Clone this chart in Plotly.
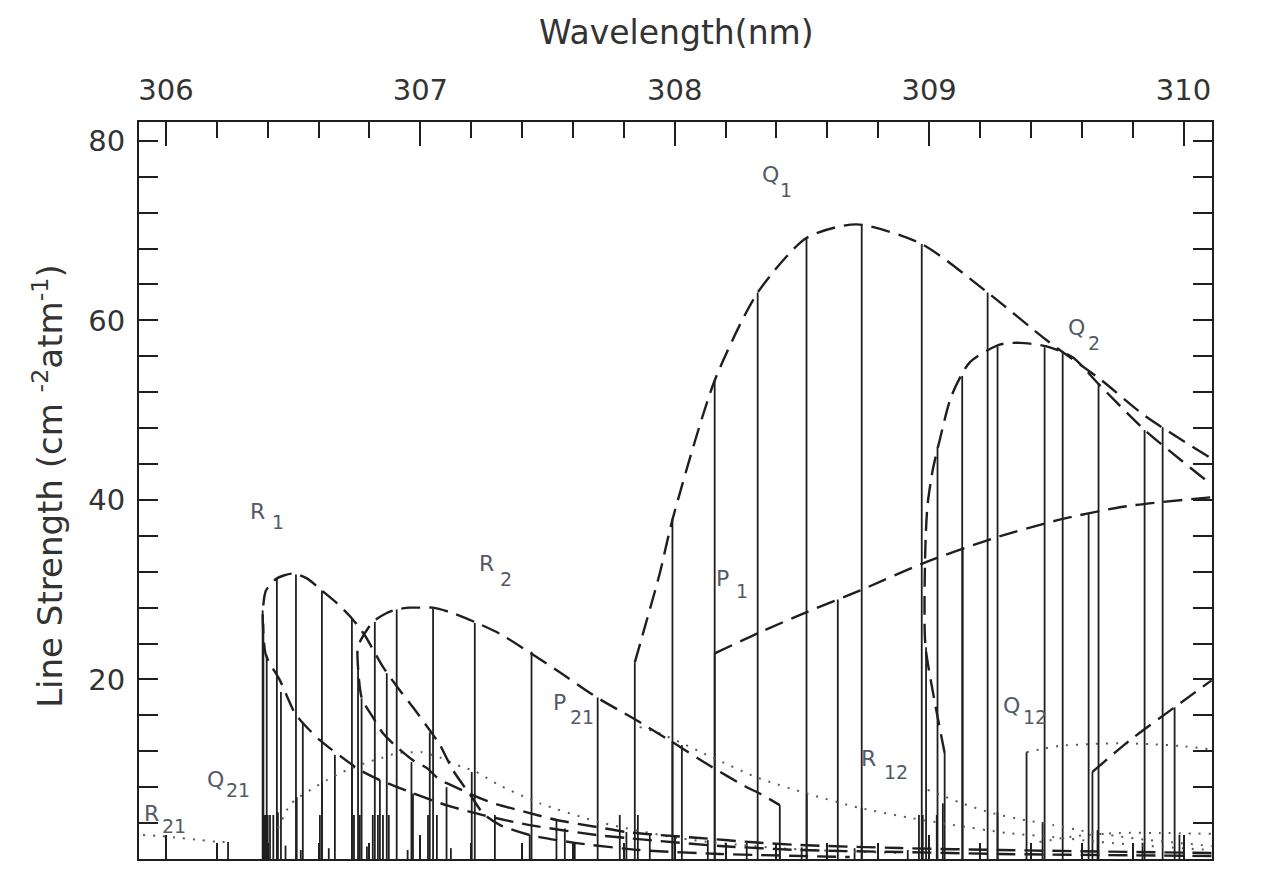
import plotly.graph_objects as go

# ------------------------------------------------------------------
# DATA  (wavelength in nm, line strength in cm^-2 atm^-1)
# ------------------------------------------------------------------
# dashed envelopes of the main branches
r1_env_nm = [310.110, 309.670, 309.277, 308.884, 308.491, 308.177, 307.941, 307.811, 307.694, 307.430,
             307.246, 307.128, 307.077, 306.971, 306.841, 306.762, 306.723, 306.644, 306.605, 306.546,
             306.507, 306.448, 306.393, 306.381, 306.381, 306.393, 306.436, 306.499, 306.554, 306.613,
             306.672, 306.731, 306.782, 306.853, 306.919, 306.971, 307.037, 307.077, 307.128, 307.202,
             307.246, 307.312, 307.430, 307.607, 307.862, 308.177, 308.688]
r1_env_val = [0.33, 0.44, 0.56, 0.78, 1.0, 1.45, 2.0, 2.34, 2.67, 3.78,
              4.89, 5.78, 6.23, 7.34, 8.79, 9.9, 10.68, 12.35, 13.24, 14.9,
              16.24, 19.9, 22.7, 26.25, 27.7, 29.9, 31.26, 31.8, 31.26, 29.9,
              28.5, 26.8, 24.9, 21.4, 18.8, 16.9, 14.35, 12.7, 9.9, 6.9,
              5.1, 3.8, 2.67, 1.8, 1.0, 0.56, 0.22]

r2_env_nm = [310.110, 309.277, 308.884, 308.491, 308.295, 308.098, 307.941, 307.811, 307.694, 307.536,
             307.430, 307.285, 307.206, 307.104, 307.077, 307.026, 306.971, 306.908, 306.853, 306.813,
             306.770, 306.754, 306.754, 306.770, 306.813, 306.868, 306.908, 306.959, 306.998, 307.049,
             307.116, 307.222, 307.312, 307.430, 307.548, 307.694, 307.835, 307.992, 308.149, 308.283,
             308.334, 308.413]
r2_env_val = [0.67, 1.0, 1.22, 1.56, 1.89, 2.34, 2.67, 3.0, 3.56, 4.34,
              5.12, 6.23, 7.12, 8.45, 8.79, 10.12, 11.0, 12.46, 14.0, 15.8,
              17.9, 21.8, 23.6, 24.6, 26.4, 27.4, 27.8, 28.0, 28.0, 28.0,
              27.5, 26.3, 25.1, 23.0, 20.8, 18.0, 15.7, 13.0, 10.2, 8.0,
              7.3, 6.0]

q1_env_nm = [307.843, 307.890, 307.941, 307.992, 308.157, 308.326, 308.519, 308.715, 308.971, 309.230,
             309.466, 309.670, 309.847, 310.110]
q1_env_val = [21.9, 26.6, 31.8, 37.9, 53.3, 63.1, 69.2, 70.7, 68.5, 63.1,
              57.7, 53.5, 49.4, 44.6]

q2_env_nm = [309.061, 308.986, 308.982, 308.986, 308.994, 309.014, 309.041, 309.088, 309.159, 309.277,
             309.356, 309.462, 309.564, 309.670, 309.847, 310.110]
q2_env_val = [11.8, 23.6, 28.8, 35.5, 39.5, 43.3, 46.6, 51.6, 55.3, 57.3,
              57.5, 57.1, 55.9, 52.8, 47.8, 41.7]

p1_env_nm = [308.157, 308.334, 308.519, 308.727, 308.990, 309.250, 309.513, 309.776, 310.110]
p1_env_val = [22.9, 25.25, 27.5, 29.9, 33.1, 35.7, 37.8, 39.3, 40.3]

p2_env_nm = [309.642, 309.788, 309.965, 310.110]
p2_env_val = [9.7, 13.2, 16.9, 19.9]

# dotted envelopes of the satellite branches
r21_env_nm = [305.910, 305.976, 306.055, 306.134, 306.212, 306.244]
r21_env_val = [2.67, 2.56, 2.34, 2.11, 1.89, 1.89]

q21_env_nm = [306.440, 306.487, 306.514, 306.574, 306.633, 306.695, 306.794, 306.853, 306.908, 306.971,
              307.006, 307.077, 307.167, 307.206, 307.312, 307.470, 307.705, 308.020, 308.413, 308.884]
q21_env_val = [3.4, 6.0, 6.7, 7.8, 8.8, 9.7, 10.8, 11.3, 11.8, 11.9,
               11.9, 11.3, 10.2, 9.9, 8.2, 6.2, 4.1, 2.3, 1.2, 0.67]

p21_env_nm = [307.862, 307.941, 308.149, 308.322, 308.519, 308.727, 308.923, 309.092, 309.305, 309.485,
              309.670, 309.866, 310.110]
p21_env_val = [14.7, 14.0, 11.3, 9.1, 7.3, 5.7, 4.6, 3.8, 2.9, 2.45,
               1.9, 1.45, 1.0]

r12_env_nm = [308.994, 309.041, 309.120, 309.250, 309.383, 309.485, 309.591, 309.709, 309.866, 310.110]
r12_env_val = [7.7, 7.2, 6.3, 5.1, 4.3, 3.8, 3.2, 2.67, 2.1, 1.45]

q12_env_nm = [309.383, 309.434, 309.513, 309.631, 309.749, 309.866, 309.984, 310.110]
q12_env_val = [11.9, 12.2, 12.6, 12.8, 12.9, 12.8, 12.6, 12.2]

p12_env_nm = [309.434, 309.591, 309.749, 309.906, 310.110]
p12_env_val = [1.9, 2.6, 2.9, 2.9, 2.8]

# individual lines (sticks)
r1_lines_nm = [306.380, 306.383, 306.396, 306.436, 306.440, 306.452, 306.511, 306.538, 306.613, 306.664,
               306.731, 306.841, 306.868, 306.971, 307.037, 307.293, 307.430, 307.568, 307.607, 307.902,
               308.130, 308.283, 308.413, 308.499, 308.707, 308.916]
r1_lines_val = [27.7, 26.2, 22.7, 31.3, 5.2, 18.6, 31.7, 15.1, 29.9, 11.6,
                26.8, 8.8, 20.7, 7.3, 14.1, 4.9, 2.7, 3.4, 1.8, 2.7,
                2.1, 1.8, 1.3, 1.3, 1.2, 1.0]

r2_lines_nm = [306.755, 306.769, 306.821, 306.907, 306.965, 307.050, 307.103, 307.214, 307.437, 307.535,
               307.697, 307.810, 307.991, 308.413]
r2_lines_val = [21.8, 17.9, 26.4, 27.8, 10.8, 27.9, 8.0, 26.3, 23.1, 4.3,
                18.0, 3.0, 13.1, 6.0]

q1_lines_nm = [307.843, 307.991, 308.157, 308.326, 308.518, 308.735, 308.971, 309.230, 309.525, 309.918]
q1_lines_val = [21.9, 38.0, 53.3, 63.1, 69.2, 70.7, 68.5, 63.1, 56.5, 48.1]

q2_lines_nm = [308.988, 309.033, 309.061, 309.130, 309.269, 309.454, 309.666, 309.847]
q2_lines_val = [23.6, 45.9, 11.8, 53.8, 57.1, 57.0, 53.0, 47.8]

p1_lines_nm = [308.157, 308.641, 309.132, 309.627]
p1_lines_val = [22.9, 28.9, 34.5, 38.4]

p2_lines_nm = [309.642, 309.965]
p2_lines_val = [9.7, 16.9]

r21_lines_nm = [306.244]
r21_lines_val = [1.9]

q21_lines_nm = [306.514, 306.613, 306.731, 307.202]
q21_lines_val = [6.9, 8.6, 10.1, 9.7]

p21_lines_nm = [308.028, 308.519, 308.735]
p21_lines_val = [12.7, 7.3, 5.7]

r12_lines_nm = [309.054, 309.269, 309.446, 309.662]
r12_lines_val = [6.2, 5.2, 4.1, 3.2]

q12_lines_nm = [309.383]
q12_lines_val = [11.9]

weak_lines_nm = [306.386, 306.392, 306.400, 306.409, 306.422, 306.470, 306.530, 306.605, 306.640, 306.739,
                 306.762, 306.790, 306.813, 306.833, 306.853, 306.876, 306.950, 307.030, 307.065, 307.120,
                 307.784, 307.855, 308.960, 308.975, 309.030, 309.839, 309.984]
weak_lines_val = [4.9, 4.9, 4.9, 4.9, 4.9, 1.5, 1.0, 4.9, 1.2, 4.9,
                  4.9, 1.4, 4.9, 4.9, 4.9, 4.9, 1.0, 4.9, 4.9, 1.2,
                  4.9, 4.9, 4.9, 4.9, 4.9, 1.8, 2.7]

# branch labels: (letter, subscript)
label_main = ["R", "R", "Q", "R", "P", "P", "Q", "Q", "R", "Q", "P", "P"]
label_sub = ["1", "21", "21", "2", "21", "1", "1", "2", "12", "12", "2", "12"]
label_main_nm = [306.358, 305.945, 306.193, 307.261, 307.548, 308.189, 308.377, 309.580, 308.762, 309.324, 310.145, 310.145]
label_main_val = [38.7, 5.1, 8.9, 32.9, 17.4, 31.3, 76.3, 59.2, 11.2, 17.1, 24.8, 5.1]
label_sub_nm = [306.440, 306.030, 306.282, 307.338, 307.634, 308.265, 308.438, 309.648, 308.868, 309.418, 310.222, 310.248]
label_sub_val = [37.5, 3.7, 7.7, 31.2, 15.8, 29.9, 74.5, 57.5, 9.7, 15.8, 23.5, 3.7]

# ------------------------------------------------------------------
INK = "#1f1f1f"
DOTC = "#5a5a5a"
LBL = "#535a66"
DASH = "19px,9px"
DOT = "2px,8px"

fig = go.Figure()


def add_sticks(nm, val, width=1.8):
    xs, ys = [], []
    for a, b in zip(nm, val):
        xs += [a, a, None]
        ys += [0, b, None]
    fig.add_trace(go.Scatter(x=xs, y=ys, mode="lines", line=dict(color=INK, width=width),
                             hoverinfo="skip", showlegend=False))


def add_curve(nm, val, dotted=False):
    fig.add_trace(go.Scatter(
        x=nm, y=val, mode="lines",
        line=dict(color=DOTC if dotted else INK, width=2.0 if dotted else 2.4,
                  dash=DOT if dotted else DASH, shape="spline", smoothing=0.7),
        hoverinfo="skip", showlegend=False))


for nm, val in [(r1_lines_nm, r1_lines_val), (r2_lines_nm, r2_lines_val), (q1_lines_nm, q1_lines_val),
                (q2_lines_nm, q2_lines_val), (p1_lines_nm, p1_lines_val), (p2_lines_nm, p2_lines_val),
                (r21_lines_nm, r21_lines_val), (q21_lines_nm, q21_lines_val), (p21_lines_nm, p21_lines_val),
                (r12_lines_nm, r12_lines_val), (q12_lines_nm, q12_lines_val), (weak_lines_nm, weak_lines_val)]:
    add_sticks(nm, val)

for nm, val in [(r21_env_nm, r21_env_val), (q21_env_nm, q21_env_val), (p21_env_nm, p21_env_val),
                (r12_env_nm, r12_env_val), (q12_env_nm, q12_env_val), (p12_env_nm, p12_env_val)]:
    add_curve(nm, val, dotted=True)

for nm, val in [(r1_env_nm, r1_env_val), (r2_env_nm, r2_env_val), (q1_env_nm, q1_env_val),
                (q2_env_nm, q2_env_val), (p1_env_nm, p1_env_val), (p2_env_nm, p2_env_val)]:
    add_curve(nm, val)

annotations = []
for t, x, y in zip(label_main, label_main_nm, label_main_val):
    annotations.append(dict(text=t, x=x, y=y, xref="x", yref="y", showarrow=False,
                            xanchor="center", yanchor="middle",
                            font=dict(family="DejaVu Sans", size=22, color=LBL)))
for t, x, y in zip(label_sub, label_sub_nm, label_sub_val):
    annotations.append(dict(text=t, x=x, y=y, xref="x", yref="y", showarrow=False,
                            xanchor="center", yanchor="middle",
                            font=dict(family="DejaVu Sans", size=19, color=LBL)))

annotations.append(dict(text="Wavelength(nm)", x=0.501, y=1.121, xref="paper", yref="paper",
                        showarrow=False, xanchor="center", yanchor="middle",
                        font=dict(family="DejaVu Sans", size=33, color="#333333")))
annotations.append(dict(text="Line Strength (cm <sup>-2</sup>atm<sup>-1</sup>)", x=-0.0848, y=0.505,
                        xref="paper", yref="paper", textangle=-90, showarrow=False,
                        xanchor="center", yanchor="middle",
                        font=dict(family="DejaVu Sans", size=34, color="#333333")))

fig.update_layout(
    width=1261, height=872,
    margin=dict(l=139, r=49, t=122, b=13),
    paper_bgcolor="white", plot_bgcolor="white",
    showlegend=False,
    font=dict(family="DejaVu Sans", color="#333333"),
    annotations=annotations,
)

fig.update_xaxes(
    range=[305.894, 310.112], side="top", tick0=306, dtick=1,
    ticks="inside", ticklen=24, tickwidth=1.8, tickcolor=INK,
    minor=dict(tick0=306, dtick=0.2, ticks="inside", ticklen=16, tickwidth=1.8, tickcolor=INK),
    showline=True, linewidth=2, linecolor=INK, mirror="ticks",
    showgrid=False, zeroline=False,
    tickfont=dict(family="DejaVu Sans", size=29, color="#333333"),
    ticklabelstandoff=8,
)
fig.update_yaxes(
    range=[0, 82.1], tick0=0, dtick=20,
    ticks="inside", ticklen=19, tickwidth=1.8, tickcolor=INK,
    minor=dict(tick0=0, dtick=4, ticks="inside", ticklen=19, tickwidth=1.8, tickcolor=INK),
    showline=True, linewidth=2, linecolor=INK, mirror="ticks",
    showgrid=False, zeroline=False,
    tickfont=dict(family="DejaVu Sans", size=29, color="#333333"),
    ticklabelstandoff=6,
)

fig.write_html("out.html", include_plotlyjs=True, config={"displayModeBar": False},
               post_script="document.body.style.margin='0px';")
